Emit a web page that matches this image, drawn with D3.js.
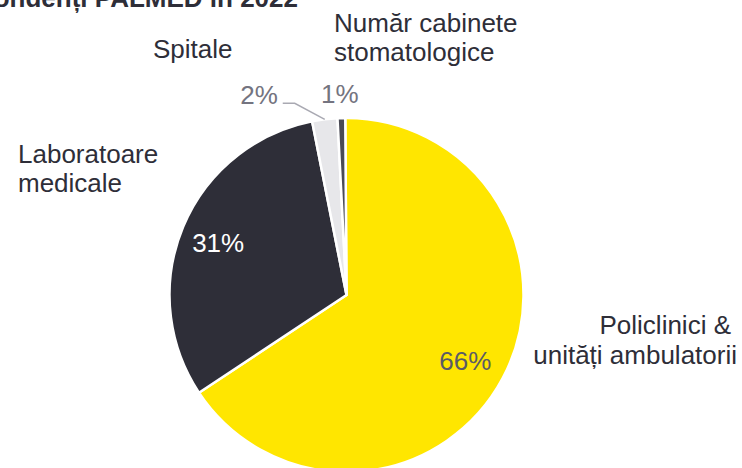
<!DOCTYPE html>
<html>
<head>
<meta charset="utf-8">
<script src="https://cdn.jsdelivr.net/npm/d3@7"></script>
<style>
  html, body { margin: 0; padding: 0; background: #ffffff; }
  svg { display: block; }
  text { font-family: "Liberation Sans", Arial, sans-serif; }
</style>
</head>
<body>
<svg id="chart" width="742" height="468"></svg>
<script>
const title = "Respondenți PALMED în 2022";
const categories = ["Policlinici & unități ambulatorii", "Laboratoare medicale", "Spitale", "Număr cabinete stomatologice"];
const categoryLines = [["Policlinici &", "unități ambulatorii"], ["Laboratoare", "medicale"], ["Spitale"], ["Număr cabinete", "stomatologice"]];
const values = [65.8, 31.2, 2.3, 0.7];
const colors = ["#FFE600", "#2E2E38", "#E7E7EA", "#4A4A55"];

const svg = d3.select("#chart");
const cx = 346.5, cy = 295, R = 177;

const data = categories.map((c, i) => ({ name: c, value: values[i], color: colors[i], lines: categoryLines[i] }));

const offset = -0.4 * Math.PI / 180;
const pie = d3.pie().sort(null).value(d => d.value).startAngle(offset).endAngle(2 * Math.PI + offset);
const arcs = pie(data);
const arc = d3.arc().innerRadius(0).outerRadius(R);
const labelArc = d3.arc().innerRadius(138).outerRadius(138);

const g = svg.append("g").attr("transform", `translate(${cx},${cy})`);

g.selectAll("path.slice").data(arcs).enter().append("path")
  .attr("class", "slice")
  .attr("d", arc)
  .attr("fill", d => d.data.color)
  .attr("stroke", "#ffffff")
  .attr("stroke-width", 2.5)
  .attr("stroke-linejoin", "round");

const fmt = v => Math.round(v) + "%";

// inside labels for the two big slices
const insideColors = ["#5b5b66", "#ffffff"];
const insideDx = [-3, -1];
g.selectAll("text.inlab").data(arcs.slice(0, 2)).enter().append("text")
  .attr("class", "inlab")
  .attr("x", (d, i) => labelArc.centroid(d)[0] + insideDx[i])
  .attr("y", d => labelArc.centroid(d)[1] + 10)
  .attr("text-anchor", "middle")
  .attr("font-size", 26)
  .attr("fill", (d, i) => insideColors[i])
  .text(d => fmt(d.data.value));

// outside labels for small slices
const pt = (a, r) => [r * Math.sin(a), -r * Math.cos(a)];
// Spitale (2%) with leader line
{
  const d = arcs[2];
  const mid = (d.startAngle + d.endAngle) / 2;
  const p0 = pt(mid, R);
  const p1 = [p0[0] - 30, p0[1] - 16];
  const p2 = [p1[0] - 12, p1[1]];
  g.append("polyline")
    .attr("points", [p0, p1, p2].map(p => p.join(",")).join(" "))
    .attr("fill", "none")
    .attr("stroke", "#A9A9B2")
    .attr("stroke-width", 1.5);
  g.append("text")
    .attr("x", p2[0] - 5)
    .attr("y", p2[1] + 1)
    .attr("text-anchor", "end")
    .attr("font-size", 26)
    .attr("fill", "#747480")
    .text(fmt(d.data.value));
}
// Cabinete (1%)
{
  const d = arcs[3];
  const mid = (d.startAngle + d.endAngle) / 2;
  const p = pt(mid, 200);
  g.append("text")
    .attr("x", p[0] - 1)
    .attr("y", p[1] + 8)
    .attr("text-anchor", "middle")
    .attr("font-size", 26)
    .attr("fill", "#747480")
    .text(fmt(d.data.value));
}

// category labels
const catPos = [
  { xs: [731, 737], y: 334, anchor: "end", lh: 30 },
  { xs: [18, 18], y: 163, anchor: "start", lh: 29 },
  { xs: [153], y: 58, anchor: "start", lh: 29 },
  { xs: [334, 334], y: 32, anchor: "start", lh: 29 }
];
data.forEach((d, i) => {
  const p = catPos[i];
  const t = svg.append("text")
    .attr("x", p.xs[0]).attr("y", p.y)
    .attr("text-anchor", p.anchor)
    .attr("font-size", 26)
    .attr("fill", "#2E2E38");
  d.lines.forEach((ln, j) => {
    t.append("tspan").attr("x", p.xs[j]).attr("y", p.y + j * p.lh).text(ln);
  });
});

// title (partially cut off at the top-left, as in the reference)
svg.append("text")
  .attr("x", 298).attr("y", 7)
  .attr("text-anchor", "end")
  .attr("font-size", 26)
  .attr("font-weight", "bold")
  .attr("fill", "#2E2E38")
  .text(title);
</script>
</body>
</html>
